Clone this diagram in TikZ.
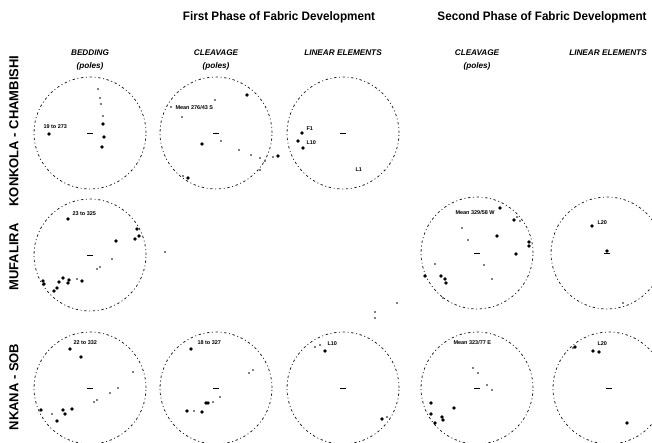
\documentclass[tikz,border=0pt]{standalone}
\usepackage{fontspec}
\setmainfont{Liberation Sans}
\begin{document}
\begin{tikzpicture}[x=1pt,y=-1pt,
  net/.style={circle, draw=black!85, line width=0.8pt,
    dash pattern=on 2.4pt off 2.6pt on 1pt off 2.6pt,
    minimum size=112pt, inner sep=0pt},
  ctrtick/.style={line width=0.9pt},
  ptlabel/.style={font=\fontsize{5.5}{6}\selectfont\bfseries, inner sep=0.3pt, anchor=west},
  phase/.style={font=\fontsize{12.3}{14}\selectfont\bfseries, inner sep=0pt},
  colhead/.style={font=\fontsize{8.2}{9}\selectfont\bfseries\itshape, inner sep=0pt},
  rowhead/.style={font=\fontsize{13}{14}\selectfont\bfseries, rotate=90, inner sep=0pt}]
\useasboundingbox (0,0) rectangle (652,443);
\clip (0,0) rectangle (652,443);

% headings
\node[phase] (ph1) at (279,17) {\scalebox{0.95}[1]{First Phase of Fabric Development}};
\node[phase] (ph2) at (542,17) {\scalebox{0.95}[1]{Second Phase of Fabric Development}};
\node[colhead] (h1) at (90,53) {BEDDING};
\node[colhead] (h1b) at (90,66) {(poles)};
\node[colhead] (h2) at (216,53) {CLEAVAGE};
\node[colhead] (h2b) at (216,66) {(poles)};
\node[colhead] (h3) at (343,53) {LINEAR ELEMENTS};
\node[colhead] (h4) at (477,53) {CLEAVAGE};
\node[colhead] (h4b) at (477,66) {(poles)};
\node[colhead] (h5) at (608,53) {LINEAR ELEMENTS};

\node[rowhead] (r1) at (14,131) {KONKOLA - CHAMBISHI};
\node[rowhead] (r2) at (14,257) {MUFALIRA};
\node[rowhead] (r3) at (14,387) {NKANA - SOB};

% stereonets
\foreach \nm/\cx/\cy in {kb/90/133, kc/216/133, kl/343/133,
                         mb/90/255, mc/477/253, ml/607/253,
                         nb/90/388, nc/216/388, nl/343/388, nd/477/388, ne/609/388}{
  \node[net] (\nm) at (\cx,\cy) {};
  \draw[ctrtick] ([xshift=-3pt]\nm.center) -- ([xshift=3pt]\nm.center);
}

% large and small poles
\foreach \p in {(49,134),(103,124),(104,137),(102,147),
  (247,95),(202,144),(188,178),(278,156),
  (302,133),(298,141),(303,148),
  (68,219),(116,241),(137,229),(135,239),(139,236),(43,281),(44,284),(54,291),(57,288),(59,282),(63,278),(68,283),(69,280),(82,281),
  (500,208),(514,220),(497,236),(529,242),(529,246),(516,254),(425,276),(441,276),(445,279),(446,283),
  (592,226),(607,251),
  (70,349),(81,357),(41,410),(57,421),(63,410),(65,414),(72,409),
  (191,349),(208,403),(206,403),(187,411),(202,412),
  (325,351),(382,419),
  (431,403),(454,408),(431,414),(435,423),(442,417),(443,420),
  (593,351),(599,352),(575,347),(627,423)}
  \fill \p circle (1.8pt);

\foreach \p in {(98,89),(100,98),(101,104),(103,116),
  (171,107),(182,117),(215,100),(221,141),(239,150),(251,155),(260,158),(265,161),(273,157),(260,170),(183,176),
  (112,259),(100,267),(97,269),(77,279),(165,252),
  (517,217),(520,221),(462,228),(468,240),(484,265),(492,279),(435,264),(443,298),(397,303),(375,312),(375,318),
  (623,303),
  (133,372),(118,388),(110,393),(97,400),(94,402),(52,414),
  (253,370),(249,373),(220,397),(213,402),(194,411),
  (315,347),(320,345),(387,417),
  (473,368),(478,373),(487,385),(492,390),
  (573,348)}
  \fill \p circle (0.9pt);

% point labels
\node[ptlabel] (t1) at (43,127) {19 to 273};
\node[ptlabel] (t2) at (175,108) {Mean 276/43 S};
\node[ptlabel] (t3) at (306,129) {F1};
\node[ptlabel] (t4) at (306,143) {L10};
\node[ptlabel] (t5) at (355,170) {L1};
\node[ptlabel] (t6) at (72,214) {23 to 325};
\node[ptlabel] (t7) at (455,213) {Mean 329/58 W};
\node[ptlabel] (t8) at (597,223) {L20};
\node[ptlabel] (t9) at (73,343) {22 to 332};
\node[ptlabel] (t10) at (197,343) {18 to 327};
\node[ptlabel] (t11) at (327,344) {L10};
\node[ptlabel] (t12) at (453,343) {Mean 323/77 E};
\node[ptlabel] (t13) at (597,344) {L20};
\end{tikzpicture}
\end{document}
